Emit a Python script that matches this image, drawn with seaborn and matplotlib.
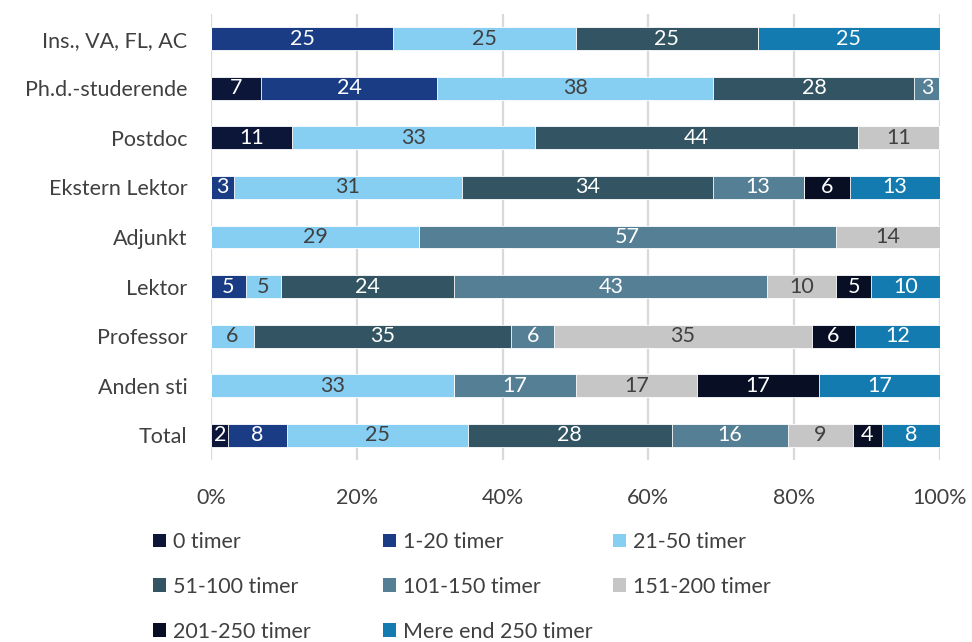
import numpy as np
import pandas as pd
import matplotlib
matplotlib.use("Agg")
import matplotlib.pyplot as plt
import seaborn as sns
from matplotlib.patches import Patch

# Share of respondents (%) per hours bracket, by position
categories = ["Ins., VA, FL, AC", "Ph.d.-studerende", "Postdoc", "Ekstern Lektor",
              "Adjunkt", "Lektor", "Professor", "Anden sti", "Total"]
series_names = ["0 timer", "1-20 timer", "21-50 timer", "51-100 timer",
                "101-150 timer", "151-200 timer", "201-250 timer", "Mere end 250 timer"]

s_0 = [0, 6.9, 11.1, 0, 0, 0, 0, 0, 2.4]
s_1_20 = [25, 24.1, 0, 3.1, 0, 4.8, 0, 0, 8.0]
s_21_50 = [25, 37.9, 33.3, 31.3, 28.6, 4.8, 5.9, 33.3, 24.8]
s_51_100 = [25, 27.6, 44.4, 34.4, 0, 23.8, 35.3, 0, 28.0]
s_101_150 = [0, 3.4, 0, 12.5, 57.1, 42.9, 5.9, 16.7, 16.0]
s_151_200 = [0, 0, 11.1, 0, 14.3, 9.5, 35.3, 16.7, 8.8]
s_201_250 = [0, 0, 0, 6.3, 0, 4.8, 5.9, 16.7, 4.0]
s_250p = [25, 0, 0, 12.5, 0, 9.5, 11.8, 16.7, 8.0]

series = [s_0, s_1_20, s_21_50, s_51_100, s_101_150, s_151_200, s_201_250, s_250p]
colors = ["#0b1638", "#1a3c85", "#87cff2", "#335462",
          "#557f95", "#c6c6c6", "#080f24", "#137bb0"]
label_colors = ["white", "white", "#404040", "white",
                "white", "#404040", "white", "white"]
x_ticks = [0, 20, 40, 60, 80, 100]
x_ticklabels = ["0%", "20%", "40%", "60%", "80%", "100%"]

FONT = ["Lato", "DejaVu Sans"]
TEXT = "#404040"
FS = 15.5

sns.set_theme(style="white")
plt.rcParams["font.family"] = FONT
plt.rcParams["text.color"] = TEXT

vals = np.array(series, dtype=float)          # (n_series, n_cat)
cum = np.cumsum(vals, axis=0)

fig = plt.figure(figsize=(9.72, 6.42), dpi=100)
ax = fig.add_axes([211 / 972, 1 - 460 / 642, (940 - 211) / 972, (460 - 14) / 642])

# Stacked bars: draw cumulative totals from the outermost bracket inwards
for i in range(len(series) - 1, -1, -1):
    df = pd.DataFrame({"cat": categories, "val": cum[i]})
    sns.barplot(data=df, x="val", y="cat", order=categories, orient="h",
                color=colors[i], saturation=1, width=0.46,
                edgecolor="white", linewidth=0.6, ax=ax, zorder=3)

# Segment labels (rounded half up)
for i in range(len(series)):
    for j, cat in enumerate(categories):
        v = vals[i, j]
        if v <= 0:
            continue
        center = cum[i, j] - v / 2
        ax.text(center, j, f"{int(np.floor(v + 0.5))}", ha="center", va="center",
                fontsize=FS, color=label_colors[i], zorder=5)

ax.set_xlim(0, 100)
ax.set_ylim(len(categories) - 0.5, -0.5)
ax.set_xticks(x_ticks)
ax.set_xticklabels(x_ticklabels)
ax.set_xlabel("")
ax.set_ylabel("")
ax.grid(axis="x", color="#d9d9d9", linewidth=1.6, zorder=0)
ax.grid(axis="y", visible=False)
for sp in ax.spines.values():
    sp.set_visible(False)
ax.tick_params(axis="x", length=0, pad=20, labelsize=FS, labelcolor=TEXT)
ax.tick_params(axis="y", length=0, pad=17, labelsize=FS, labelcolor=TEXT)

# Legend laid out row by row in three fixed-width columns
col_x = [153, 383, 613]
for c in range(3):
    idx = list(range(c, len(series), 3))
    handles = [Patch(facecolor=colors[k], edgecolor="none") for k in idx]
    fig.legend(handles, [series_names[k] for k in idx], loc="upper left", ncol=1,
               bbox_to_anchor=(col_x[c] / 972, 1 - 532 / 642), frameon=False,
               fontsize=FS, labelcolor=TEXT, handlelength=0.6, handleheight=0.6,
               handletextpad=0.35, labelspacing=1.15,
               borderaxespad=0, borderpad=0)

fig.savefig("out.png", dpi=100)
